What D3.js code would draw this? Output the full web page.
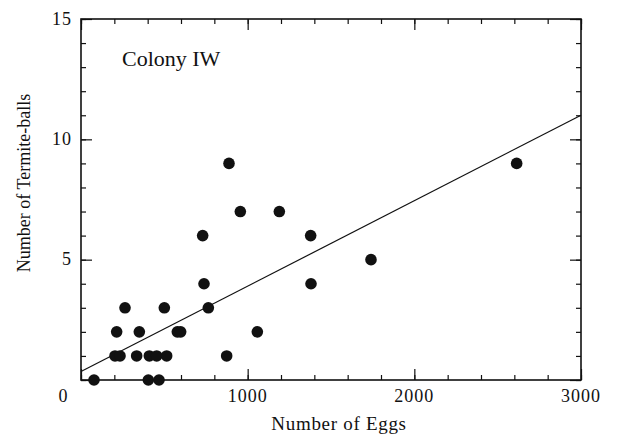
<!DOCTYPE html>
<html>
<head>
<meta charset="utf-8">
<script src="https://cdn.jsdelivr.net/npm/d3@7"></script>
<style>
  body { margin: 0; background: #fff; }
  text { font-family: "Liberation Serif", "DejaVu Serif", serif; fill: #111; }
</style>
</head>
<body>
<script>
// data
var eggs  = [78, 404, 468, 204, 234, 334, 410, 454, 514, 874,
             214, 350, 578, 598, 1058, 264, 500, 764, 738, 1380,
             1740, 730, 1378, 956, 1190, 888, 2614];
var balls = [0, 0, 0, 1, 1, 1, 1, 1, 1, 1,
             2, 2, 2, 2, 2, 3, 3, 3, 4, 4,
             5, 6, 6, 7, 7, 9, 9];
var fitLine = [0.35, 0.00355];   // intercept, slope
var xTicks = [1000, 2000, 3000];
var yTicks = [5, 10, 15];
var label = "Colony IW";

(function() {
  var width = 617, height = 437;
  var margin = {top: 19, right: 36, bottom: 57, left: 81};

  var svg = d3.select('body').append('svg')
    .attr('width', width)
    .attr('height', height);

  var x = d3.scaleLinear().domain([0, 3000]).range([margin.left, width - margin.right]);
  var y = d3.scaleLinear().domain([0, 15]).range([height - margin.bottom, margin.top]);

  var minorX = d3.range(0, 3001, 200);
  var minorY = d3.range(0, 16, 1);

  // inward ticks on all four sides
  function ticks(axis, vals, size) {
    return axis.tickValues(vals).tickSizeInner(size).tickSizeOuter(0).tickFormat('');
  }
  [[d3.axisBottom, y(0)], [d3.axisTop, y(15)]].forEach(function(a) {
    var g = svg.append('g').attr('transform', 'translate(0,' + a[1] + ')');
    g.call(ticks(a[0](x), minorX, -5));
    g.append('g').call(ticks(a[0](x), d3.range(0, 3001, 1000), -11));
  });
  [[d3.axisLeft, x(0)], [d3.axisRight, x(3000)]].forEach(function(a) {
    var g = svg.append('g').attr('transform', 'translate(' + a[1] + ',0)');
    g.call(ticks(a[0](y), minorY, -5));
    g.append('g').call(ticks(a[0](y), [0, 5, 10, 15], -11));
  });
  svg.selectAll('.domain').remove();
  svg.selectAll('.tick line').attr('stroke', '#111').attr('stroke-width', 1.2);

  // frame
  svg.append('rect')
    .attr('x', x(0)).attr('y', y(15))
    .attr('width', x(3000) - x(0)).attr('height', y(0) - y(15))
    .attr('fill', 'none').attr('stroke', '#111').attr('stroke-width', 1.6);

  // tick labels
  svg.selectAll('.xl').data(xTicks).enter().append('text')
    .attr('x', function(d) { return x(d); })
    .attr('y', y(0) + 22)
    .attr('text-anchor', 'middle')
    .style('font-size', '18px')
    .style('letter-spacing', '1px')
    .text(function(d) { return d; });
  svg.append('text')
    .attr('x', x(0) - 18).attr('y', y(0) + 22)
    .attr('text-anchor', 'middle')
    .style('font-size', '18px')
    .text('0');
  svg.selectAll('.yl').data(yTicks).enter().append('text')
    .attr('x', x(0) - 9)
    .attr('y', function(d) { return y(d) + 5.5; })
    .attr('text-anchor', 'end')
    .style('font-size', '18px')
    .style('letter-spacing', '1px')
    .text(function(d) { return d; });

  // axis titles
  svg.append('text')
    .attr('x', 339).attr('y', 430)
    .attr('text-anchor', 'middle')
    .style('font-size', '19px')
    .style('letter-spacing', '0.7px')
    .text('Number of Eggs');
  svg.append('text')
    .attr('transform', 'translate(30,183) rotate(-90)')
    .attr('text-anchor', 'middle')
    .style('font-size', '18px')
    .text('Number of Termite-balls');

  svg.append('text')
    .attr('x', 122).attr('y', 66)
    .style('font-size', '22px')
    .text(label);

  // regression line
  svg.append('line')
    .attr('x1', x(0)).attr('y1', y(fitLine[0]))
    .attr('x2', x(3000)).attr('y2', y(fitLine[0] + fitLine[1] * 3000))
    .attr('stroke', '#111').attr('stroke-width', 1.2);

  // points
  svg.selectAll('circle.pt').data(eggs).enter().append('circle')
    .attr('class', 'pt')
    .attr('cx', function(d) { return x(d); })
    .attr('cy', function(d, i) { return y(balls[i]); })
    .attr('r', 5.8)
    .attr('fill', '#111');
})();
</script>
</body>
</html>
